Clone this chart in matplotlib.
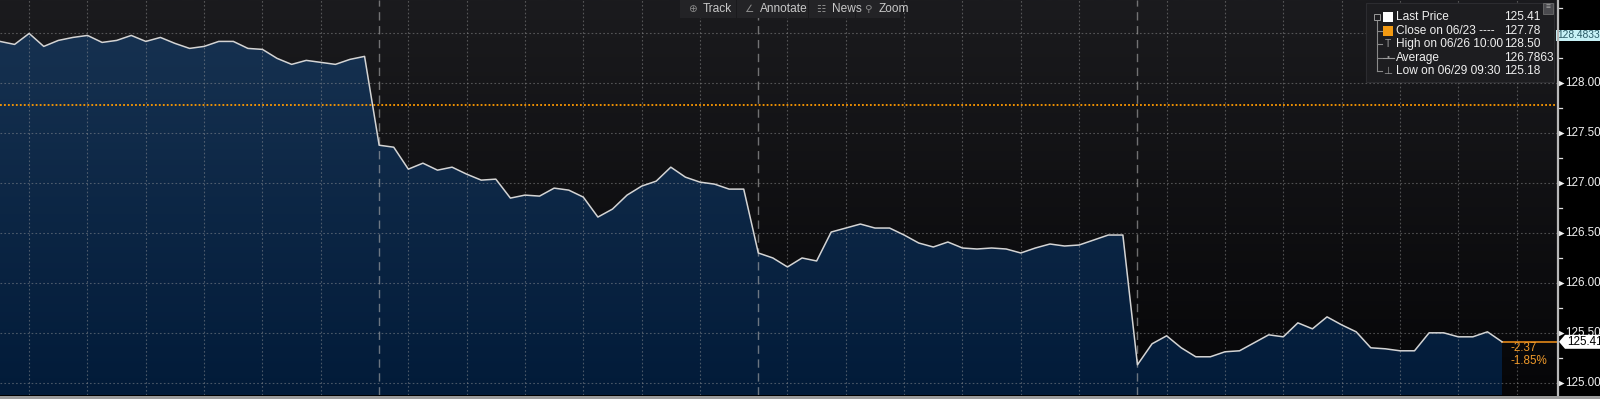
import numpy as np
import matplotlib.pyplot as plt
from matplotlib.colors import LinearSegmentedColormap
from matplotlib.patches import Rectangle, Polygon
import matplotlib.transforms as mtransforms

plt.rcParams['font.family'] = ['Liberation Sans', 'DejaVu Sans']

# 15-minute bars, 26 per session (09:30 .. 15:45), sessions 06/26 .. 06/29
day1 = [128.42, 128.39, 128.50, 128.37, 128.43, 128.46, 128.48, 128.41, 128.43,
        128.48, 128.42, 128.46, 128.40, 128.35, 128.37, 128.42, 128.42, 128.35,
        128.34, 128.25, 128.19, 128.23, 128.21, 128.19, 128.24, 128.27]
day2 = [127.38, 127.36, 127.14, 127.20, 127.13, 127.16, 127.09, 127.03, 127.04,
        126.85, 126.88, 126.87, 126.95, 126.93, 126.86, 126.66, 126.74, 126.88,
        126.97, 127.02, 127.16, 127.06, 127.01, 126.99, 126.94, 126.94]
day3 = [126.30, 126.25, 126.16, 126.25, 126.22, 126.51, 126.55, 126.59, 126.55,
        126.55, 126.48, 126.40, 126.36, 126.41, 126.35, 126.34, 126.35, 126.34,
        126.30, 126.35, 126.39, 126.37, 126.38, 126.43, 126.48, 126.48]
day4 = [125.18, 125.39, 125.47, 125.35, 125.26, 125.26, 125.31, 125.32, 125.40,
        125.48, 125.46, 125.60, 125.54, 125.66, 125.58, 125.51, 125.35, 125.34,
        125.32, 125.32, 125.50, 125.50, 125.46, 125.46, 125.51, 125.41]
price = day1 + day2 + day3 + day4
bars_per_day = 26
n_days = 4

prev_close = 127.78
last_price = 125.41
change = '-2.37'
change_pct = '-1.85%'
track_value = '128.4833'
track_level = 128.4833
yticks = [125.00, 125.50, 126.00, 126.50, 127.00, 127.50, 128.00]
ygrid = [125.0, 125.5, 126.0, 126.5, 127.0, 127.5, 128.0, 128.5]
legend_rows = [('Last Price', '125.41'),
               ('Close on 06/23 ----', '127.78'),
               ('High on 06/26 10:00', '128.50'),
               ('Average', '126.7863'),
               ('Low on 06/29 09:30', '125.18')]
toolbar = [('Track', '\u2295'), ('Annotate', '\u2220'), ('News', '\u2637'), ('Zoom', '\u26B2')]

W, H = 1600, 399
x = np.arange(len(price))
ylo, yhi = 124.877, 128.835
xmax = 106.77


def px(xp, yp):
    return xp / W, 1 - yp / H


fig = plt.figure(figsize=(W / 100, H / 100), dpi=100, facecolor='black')
ax = fig.add_axes([0, 4 / H, 1557 / W, 395 / H])
ax.set_facecolor('#0b0b0d')
for s in ax.spines.values():
    s.set_visible(False)
ax.set_xticks([])
ax.set_yticks([])

# background gradient
bg_cmap = LinearSegmentedColormap.from_list('bg', ['#060608', '#1b1b1e'])
grad = np.linspace(0, 1, 256).reshape(-1, 1)
ax.imshow(grad, extent=[0, xmax, ylo, yhi], aspect='auto', origin='lower',
          cmap=bg_cmap, zorder=0)

# area fill with gradient
poly = ax.fill_between(x, price, ylo, facecolor='none', edgecolor='none')
fill_cmap = LinearSegmentedColormap.from_list('fill', ['#021b39', '#163150'])
im = ax.imshow(grad, extent=[0, x[-1], ylo, max(price)], aspect='auto',
               origin='lower', cmap=fill_cmap, zorder=1)
im.set_clip_path(poly.get_paths()[0], transform=ax.transData)

ax.set_xlim(0, xmax)
ax.set_ylim(ylo, yhi)

# grid
for g in ygrid:
    ax.axhline(g, color='#a0a0a0', alpha=0.45, lw=0.8, ls=(0, (1.5, 2)), zorder=2)
for d in range(n_days):
    for h in range(6):
        ax.axvline(d * bars_per_day + 2 + 4 * h, color='#a0a0a0', alpha=0.45,
                   lw=0.8, ls=(0, (1.5, 2)), zorder=2)
ax.axvline(n_days * bars_per_day, color='#a0a0a0', alpha=0.45, lw=0.8,
           ls=(0, (1.5, 2)), zorder=2)
for d in range(1, n_days):
    ax.axvline(d * bars_per_day, color='#b0b0b0', alpha=0.6, lw=1.0,
               ls=(0, (6, 4)), zorder=2)

# previous close and last price lines
ax.axhline(prev_close, color='#ff9a00', lw=1.3, ls=(0, (1, 1.2)), zorder=3)
ax.plot([x[-1], xmax], [last_price, last_price], color='#c47516', lw=1.4, zorder=3)
ax.plot(x, price, color='#d4d4d4', lw=1.1, zorder=4)

ax.text(x[-1] + 0.55, last_price - 0.065, change, color='#f09a2a', fontsize=8.4,
        va='center', ha='left', zorder=5)
ax.text(x[-1] + 0.55, last_price - 0.195, change_pct, color='#f09a2a', fontsize=8.4,
        va='center', ha='left', zorder=5)

# right axis
fig.add_artist(plt.Line2D([1558 / W, 1558 / W], [4 / H, 1], color='#b8b8b8', lw=1.6))
fig.add_artist(Rectangle((0, 0), 1, 3.5 / H, facecolor='#9c9c9c', edgecolor='none'))
tr = mtransforms.blended_transform_factory(fig.transFigure, ax.transData)
for v in np.arange(125.25, 128.8, 0.5):
    ax.plot([1558 / W, 1562 / W], [v, v], color='#e0e0e0', lw=0.9,
            transform=tr, clip_on=False)
for v in yticks:
    ax.plot([1561 / W], [v], marker='>', ms=4, color='#f0f0f0', mec='none',
            transform=tr, clip_on=False)
    ax.text(1565 / W, v, f'{v:.2f}', color='#f0f0f0', fontsize=8.4,
            va='center', ha='left', transform=tr, clip_on=False)

# last price tag
tag = Polygon([(1559 / W, last_price), (1565 / W, last_price + 0.07),
               (1600 / W, last_price + 0.07), (1600 / W, last_price - 0.07),
               (1565 / W, last_price - 0.07)], closed=True, transform=tr,
              facecolor='white', edgecolor='none', zorder=10, clip_on=False)
ax.add_artist(tag)
ax.text(1567 / W, last_price, f'{last_price:.2f}', color='black', fontsize=8.4,
        va='center', ha='left', transform=tr, zorder=11, clip_on=False)

# tracking value tag
ax.add_artist(Rectangle((1556 / W, track_level - 0.055), 44 / W, 0.11,
                        transform=tr, facecolor='#c6f1f6', edgecolor='none',
                        zorder=10, clip_on=False))
ax.text(1557 / W, track_level, track_value, color='#2a5a66', fontsize=7.4,
        va='center', ha='left', transform=tr, zorder=11, clip_on=False)

# legend panel
fig.add_artist(Rectangle(px(1366, 82), 188 / W, 79 / H, facecolor='#1d1d20',
                         edgecolor='#2c2c30', lw=0.8, zorder=20))
fig.add_artist(Rectangle(px(1543, 14), 10 / W, 11 / H, facecolor='#4a4a4e',
                         edgecolor='#777', lw=0.5, zorder=21))
fig.text(*px(1548, 8), '\u2261', color='#aaaaaa', fontsize=6, ha='center',
         va='center', zorder=22)
row_y = [17, 31, 44, 58, 71]
fig.add_artist(plt.Line2D([1377 / W, 1377 / W], [1 - 20 / H, 1 - 71 / H],
                          color='#8a8a8a', lw=0.8, zorder=21))
for yy in row_y[1:]:
    fig.add_artist(plt.Line2D([1377 / W, 1382 / W], [1 - yy / H, 1 - yy / H],
                              color='#8a8a8a', lw=0.8, zorder=21))
fig.add_artist(Rectangle(px(1374, 20), 6 / W, 6 / H, facecolor='#1d1d20',
                         edgecolor='#9a9a9a', lw=0.7, zorder=22))
fig.add_artist(Rectangle(px(1383, 22), 10 / W, 10 / H, facecolor='white',
                         edgecolor='none', zorder=22))
fig.add_artist(Rectangle(px(1383, 36), 10 / W, 10 / H, facecolor='#f39a12',
                         edgecolor='none', zorder=22))
fig.text(*px(1388, 44), 'T', color='#9a9a9a', fontsize=7.5, ha='center',
         va='center', zorder=22)
fig.add_artist(plt.Line2D([1383 / W, 1394 / W], [1 - 58 / H, 1 - 58 / H],
                          color='#9a9a9a', lw=0.8, zorder=22))
fig.text(*px(1388, 58), '\u2022', color='#9a9a9a', fontsize=6, ha='center',
         va='center', zorder=23)
fig.text(*px(1388, 71), '\u22A5', color='#9a9a9a', fontsize=7.5, ha='center',
         va='center', zorder=22)
for (lab, val), yy in zip(legend_rows, row_y):
    fig.text(*px(1396, yy), lab, color='#f0f0f0', fontsize=8.6, ha='left',
             va='center', zorder=22)
    fig.text(*px(1504, yy), val, color='#f0f0f0', fontsize=8.6, ha='left',
             va='center', zorder=22)

# toolbar
btn_edges = [(680, 736), (737, 808), (809, 855), (856, 900)]
for (lab, icon), (x0, x1) in zip(toolbar, btn_edges):
    fig.add_artist(Rectangle(px(x0, 18), (x1 - x0) / W, 18 / H,
                             facecolor='#232326', edgecolor='none', zorder=20))
    fig.text(*px(x0 + 12, 9), icon, color='#8a8a8a', fontsize=7.5,
             family=['DejaVu Sans'], ha='center', va='center', zorder=21)
    fig.text(*px(x0 + 23, 9), lab, color='#c8c8c8', fontsize=8.6, ha='left',
             va='center', zorder=21)

fig.savefig('out.png', dpi=100, facecolor='black')
